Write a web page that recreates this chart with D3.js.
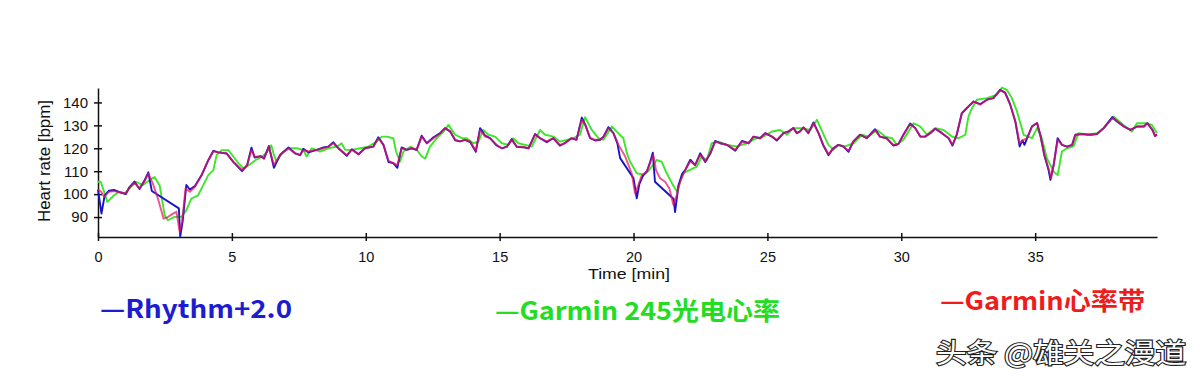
<!DOCTYPE html>
<html>
<head>
<meta charset="utf-8">
<script src="https://cdn.jsdelivr.net/npm/d3@7"></script>
<style>
  body { margin: 0; background: #fff; }
  svg { display: block; }
</style>
</head>
<body>
<svg id="chart"></svg>
<script>
// [time in min, heart rate in bpm]
const rhythmData = [
  [0,102],[0.13,91.5],[0.25,99.5],[0.41,101.5],[0.6,101.8],[0.85,100.7],[1.04,100],[1.17,103],[1.36,105.5],[1.55,102.2],
  [1.73,105.8],[1.88,109.5],[2.01,101.4],[3.02,93.8],[3.07,81.5],[3.16,88],[3.3,104],[3.43,102],[3.62,103.5],[3.87,108.3],
  [4.12,114.8],[4.31,118.9],[4.5,118.2],[4.81,117.7],[5.06,114],[5.38,110],[5.57,112.6],[5.73,120.3],[5.85,116],[6.07,116.6],
  [6.2,115.5],[6.38,121],[6.57,111.5],[6.8,117.1],[7.11,120.4],[7.36,117.8],[7.55,117],[7.67,119.8],[7.86,118.2],[8.17,119.3],
  [8.42,120.4],[8.6,120.7],[8.79,122.6],[8.98,120],[9.29,116.7],[9.48,119.6],[9.73,117.4],[9.97,120],[10.28,120.7],[10.47,124.8],
  [10.66,121.5],[10.85,114],[11.03,113.5],[11.18,111.5],[11.34,120.4],[11.53,119.3],[11.71,120],[11.9,119.3],[12.09,125.5],[12.28,122.2],
  [12.53,124.8],[12.78,126.6],[12.96,128.8],[13.15,127.4],[13.34,123.5],[13.52,123],[13.71,123.7],[13.9,122.7],[14.11,118.5],[14.27,128.8],
  [14.46,125.5],[14.64,124.4],[14.89,121.2],[15.08,120],[15.27,120.7],[15.45,124],[15.64,120.7],[15.89,120.4],[16.08,120],[16.32,126.2],
  [16.51,124.4],[16.76,122.7],[17,124.4],[17.25,121.2],[17.43,122.2],[17.68,124.4],[17.87,123.7],[18.07,133.4],[18.2,130.2],[18.38,124.4],
  [18.57,123.4],[18.75,123.7],[18.88,125.1],[19.06,129.2],[19.25,126.6],[19.4,122],[19.5,115.7],[20,106.9],[20.12,98.2],[20.22,104.5],
  [20.35,108],[20.5,110],[20.62,114],[20.72,118.1],[20.8,105.4],[21.5,97.9],[21.55,92.2],[21.68,104],[21.82,109],[21.93,110.5],
  [22.12,115],[22.3,112.7],[22.49,117.8],[22.68,114],[22.87,117.8],[23.05,123.2],[23.24,122.2],[23.49,121.5],[23.8,118.9],[24.05,123.2],
  [24.3,122.2],[24.48,125.1],[24.73,124.4],[24.92,126.6],[25.17,125.1],[25.35,123.4],[25.6,126.6],[25.79,127.4],[25.97,128.8],[26.1,126.6],
  [26.22,127.4],[26.35,129.1],[26.53,126.6],[26.72,131.3],[26.91,126.6],[27.09,121.2],[27.28,117],[27.46,120],[27.65,121.5],[27.84,120.7],
  [28.03,118.5],[28.21,123],[28.46,125.9],[28.71,124.4],[29.02,128.3],[29.2,125.1],[29.45,124.4],[29.71,121.2],[29.89,121.8],[30.08,125.9],
  [30.33,130.8],[30.52,128.8],[30.71,125.1],[30.89,125.1],[31.08,126.6],[31.27,128.5],[31.52,126.6],[31.77,124.4],[31.91,121.2],[32.07,125.9],
  [32.26,135.3],[32.51,138.3],[32.7,140.4],[32.95,139.3],[33.2,141.2],[33.44,141.9],[33.69,145.5],[33.88,144.3],[34.07,139],[34.26,131.7],
  [34.42,120.8],[34.52,123.5],[34.6,121.5],[34.7,124.4],[34.88,129.5],[35.07,131],[35.19,125.9],[35.34,117.1],[35.5,110.5],[35.57,106.2],
  [35.69,112.7],[35.84,124.4],[36,121.5],[36.19,120.7],[36.38,121.5],[36.5,125.9],[36.75,126.2],[37.06,125.9],[37.31,126.2],[37.56,128.8],
  [37.88,133.6],[38.06,131.7],[38.31,129.5],[38.56,128],[38.81,129.5],[39.06,129.5],[39.19,131],[39.38,128],[39.48,125.3],[39.55,126]
]

const garmin245Data = [
  [0,105.4],[0.1,105.4],[0.23,101],[0.35,96.6],[0.48,98.1],[0.6,99.5],[0.79,101],[0.98,100.3],[1.17,102.4],[1.42,105.4],
  [1.67,103.9],[1.92,106.1],[2.11,107.5],[2.3,103.9],[2.49,90.8],[2.61,88.6],[2.86,90.1],[3.12,90.1],[3.3,93],[3.49,98.1],
  [3.74,99.5],[3.93,103.9],[4.12,108.3],[4.31,110.5],[4.43,117],[4.62,119.2],[4.87,119.2],[5.06,116.3],[5.25,113.4],[5.44,111.2],
  [5.63,112.6],[5.88,114.8],[6.13,116.3],[6.32,118.5],[6.47,121.3],[6.57,117.1],[6.67,114.2],[6.92,118.6],[7.17,120],[7.42,120],
  [7.67,119.3],[7.79,116.4],[7.98,120],[8.29,118.6],[8.6,120],[8.92,120.7],[9.1,122.2],[9.23,119.3],[9.47,119.3],[9.79,120],
  [10.1,120.7],[10.41,122.9],[10.6,125.1],[10.78,125.1],[11.03,124.4],[11.13,118.6],[11.28,114.2],[11.41,118.6],[11.66,120.7],[11.91,119.3],
  [12.09,116.4],[12.22,115.5],[12.4,120.7],[12.65,124.4],[12.9,127.3],[13.09,130.2],[13.34,125.9],[13.59,124.4],[13.77,124.4],[14.02,122.2],
  [14.21,122.9],[14.39,128],[14.58,125.9],[14.83,125.1],[15.08,122.2],[15.33,121.5],[15.51,124.4],[15.7,122.2],[15.95,121.5],[16.2,120.8],
  [16.51,128],[16.7,125.9],[17.01,125.1],[17.26,122.9],[17.51,123.7],[17.76,124.4],[18,125.9],[18.19,133.6],[18.44,128],[18.69,124.4],
  [18.88,123.7],[19.19,129.5],[19.37,127.3],[19.62,124.4],[19.75,118],[19.87,114.2],[20.12,109.1],[20.37,108.5],[20.55,110],[20.68,112],
  [20.87,114.9],[21.05,114.2],[21.24,109.1],[21.43,104.9],[21.62,101.1],[21.74,105.4],[21.86,109.1],[22.11,110.6],[22.36,112],[22.55,116.4],
  [22.74,114.9],[22.92,122.2],[23.17,122.9],[23.5,121.5],[23.86,120.8],[24.23,122.2],[24.6,124.4],[24.85,125.1],[25.17,127.3],[25.48,128],
  [25.73,125.9],[25.97,128.8],[26.29,128.8],[26.6,128],[26.85,132.4],[27.1,125.9],[27.28,121.5],[27.47,119.3],[27.66,121.5],[27.9,120.8],
  [28.22,122.2],[28.53,125.9],[28.78,125.1],[29.09,128],[29.4,125.1],[29.65,124.4],[29.84,121.5],[30.08,123.7],[30.46,130.9],[30.71,129.5],
  [30.96,125.9],[31.27,128.8],[31.58,128],[31.89,125.1],[32.14,124.4],[32.39,125.9],[32.51,133.9],[32.64,137.5],[32.82,141.2],[33.2,141.9],
  [33.57,143.4],[33.76,146.5],[33.94,145.5],[34.13,141.9],[34.32,136.1],[34.57,125.9],[34.88,124.4],[35.07,128.8],[35.25,124.4],[35.44,115.6],
  [35.69,109.8],[35.84,108.3],[36,118.6],[36.19,120],[36.43,120.8],[36.62,126.6],[36.93,125.9],[37.31,126.6],[37.56,128.8],[37.93,133.9],
  [38.3,130.2],[38.61,127.3],[38.8,130.9],[39.17,130.9],[39.36,130.2],[39.55,126.6]
]

const strapData = [
  [0,102],[0.12,101],[0.23,98.8],[0.41,101],[0.6,101.3],[0.85,100.7],[1.04,100.3],[1.17,102.7],[1.36,105],[1.55,102.5],
  [1.73,105.4],[1.88,109],[2.05,104.6],[2.24,98],[2.45,89.3],[2.61,90],[2.8,91.5],[2.93,92.3],[3.05,83.5],[3.14,88],
  [3.27,102.5],[3.43,101],[3.62,103.2],[3.87,108.3],[4.12,114.8],[4.31,118.7],[4.5,118.2],[4.81,117.7],[5.06,114],[5.38,110.5],
  [5.57,112.6],[5.73,119.2],[5.85,116.3],[6.07,116.3],[6.2,115.5],[6.38,120.6],[6.57,112.7],[6.8,117.1],[7.11,120],[7.36,117.8],
  [7.55,117.1],[7.67,119.3],[7.86,118.6],[8.17,119.3],[8.42,120],[8.6,120.7],[8.79,122.2],[8.98,120],[9.29,117.1],[9.48,119.3],
  [9.73,117.4],[9.97,120],[10.28,120.7],[10.47,124.4],[10.66,121.5],[10.85,114.5],[11.03,113.5],[11.18,112.7],[11.34,120],[11.53,119.3],
  [11.71,120],[11.9,119.3],[12.09,125.1],[12.28,122.2],[12.53,124.4],[12.78,126.6],[12.96,128.8],[13.15,127.4],[13.34,123.7],[13.52,123],
  [13.71,123.7],[13.9,123],[14.11,118.9],[14.27,128],[14.46,125.1],[14.64,124.4],[14.89,121.5],[15.08,120],[15.27,120.7],[15.45,123.7],
  [15.64,120.7],[15.89,120.7],[16.08,120],[16.32,125.9],[16.51,124.4],[16.76,123],[17,124.4],[17.25,121.5],[17.43,122.2],[17.68,124.4],
  [17.87,123.7],[18.07,132.4],[18.2,130.2],[18.38,124.4],[18.57,123.7],[18.75,123.7],[18.88,125.1],[19.06,128.8],[19.25,126.6],[19.44,121.5],
  [19.69,116.4],[19.93,109.1],[20.06,100.2],[20.18,104],[20.31,108.3],[20.5,109.8],[20.62,113.5],[20.74,117.1],[20.84,110.5],[20.99,106.9],
  [21.18,105.4],[21.34,102.5],[21.49,95.2],[21.62,99.7],[21.74,105.4],[21.93,110.5],[22.12,114.3],[22.3,112.7],[22.49,117.1],[22.68,114.3],
  [22.87,117.8],[23.05,122.9],[23.24,122.2],[23.49,121.5],[23.8,119.3],[24.05,122.9],[24.3,122.2],[24.48,125.1],[24.73,124.4],[24.92,126.6],
  [25.17,125.1],[25.35,123.7],[25.6,126.6],[25.79,127.4],[25.97,128.8],[26.1,126.6],[26.22,127.4],[26.35,129.1],[26.53,126.6],[26.72,131],
  [26.91,126.6],[27.09,121.5],[27.28,117.4],[27.46,120],[27.65,121.5],[27.84,120.7],[28.03,118.9],[28.21,123],[28.46,125.9],[28.71,124.4],
  [29.02,128],[29.2,125.1],[29.45,124.4],[29.71,121.5],[29.89,121.8],[30.08,125.9],[30.33,130.5],[30.52,128.8],[30.71,125.1],[30.89,125.1],
  [31.08,126.6],[31.27,128.5],[31.52,126.6],[31.77,124.4],[31.91,121.5],[32.07,125.9],[32.26,135.3],[32.51,138.3],[32.7,140.4],[32.95,139],
  [33.2,141.2],[33.44,141.9],[33.69,145.5],[33.88,144],[34.07,139],[34.26,131.7],[34.42,122.2],[34.57,123.7],[34.7,124.4],[34.88,129.5],
  [35.07,131],[35.19,125.9],[35.34,117.1],[35.5,111.3],[35.59,106.9],[35.69,112.7],[35.84,123.7],[36,121.5],[36.19,120.7],[36.38,121.5],
  [36.5,125.9],[36.75,126.2],[37.06,125.9],[37.31,126.2],[37.56,128.8],[37.88,133.2],[38.06,131.7],[38.31,129.5],[38.56,128],[38.81,129.5],
  [39.06,129.5],[39.19,131],[39.38,128],[39.48,125.3],[39.55,126]
]

const xTicks = [0, 5, 10, 15, 20, 25, 30, 35]
const yTicks = [90, 100, 110, 120, 130, 140]

const legendLabels = ['—Rhythm+2.0', '—Garmin 245光电心率', '—Garmin心率带']
const watermark = '头条 @雄关之漫道'

const w = 1200
const h = 382
const axisFont = "'Liberation Sans', Arial, sans-serif"

const svg = d3.select('#chart').attr('width', w).attr('height', h)

const x = d3.scaleLinear().domain([0, 39.55]).range([98, 1157])
const y = d3.scaleLinear().domain([81.3, 146.3]).range([237, 88])

// axes - ticks cross the axis line
const gx = svg
  .append('g')
  .attr('transform', `translate(0,${y(81.3)})`)
  .call(d3.axisBottom(x).tickValues(xTicks).tickSizeOuter(0).tickFormat(d3.format('d')))
gx.select('.domain').attr('stroke', '#111').attr('stroke-width', 1.5)
gx.selectAll('.tick line').attr('y1', -4).attr('y2', 4).attr('stroke', '#111').attr('stroke-width', 1.5)
gx.selectAll('.tick text')
  .attr('y', 25)
  .attr('dy', 0)
  .attr('fill', '#111')
  .style('font-family', axisFont)
  .style('font-size', '14.5px')

const gy = svg
  .append('g')
  .attr('transform', `translate(${x(0)},0)`)
  .call(d3.axisLeft(y).tickValues(yTicks).tickSizeOuter(0))
gy.select('.domain').attr('stroke', '#111').attr('stroke-width', 1.5)
gy.selectAll('.tick line').attr('x1', -4).attr('x2', 4).attr('stroke', '#111').attr('stroke-width', 1.5)
gy.selectAll('.tick text')
  .attr('x', -10)
  .attr('fill', '#111')
  .style('font-family', axisFont)
  .style('font-size', '15px')

svg
  .append('text')
  .text('Time [min]')
  .attr('x', 629)
  .attr('y', 279)
  .attr('text-anchor', 'middle')
  .attr('textLength', 82)
  .attr('lengthAdjust', 'spacingAndGlyphs')
  .style('font-family', axisFont)
  .style('font-size', '14.5px')
  .attr('fill', '#111')

svg
  .append('text')
  .text('Heart rate [bpm]')
  .attr('transform', 'translate(50,161) rotate(-90)')
  .attr('text-anchor', 'middle')
  .attr('textLength', 122)
  .attr('lengthAdjust', 'spacingAndGlyphs')
  .style('font-family', axisFont)
  .style('font-size', '16px')
  .attr('fill', '#111')

// series
const line = d3
  .line()
  .x((d) => x(d[0]))
  .y((d) => y(d[1]))

const series = [
  { data: garmin245Data, color: '#3ee62a', opacity: 1 },
  { data: rhythmData, color: '#1a14c8', opacity: 1 },
  { data: strapData, color: '#e8125e', opacity: 0.72 },
]

svg
  .append('g')
  .selectAll('path')
  .data(series)
  .join('path')
  .attr('d', (d) => line(d.data))
  .attr('fill', 'none')
  .attr('stroke', (d) => d.color)
  .attr('stroke-opacity', (d) => d.opacity)
  .attr('stroke-width', 1.9)
  .attr('stroke-linejoin', 'round')

// legend text blocks
const legendPos = [
  { x: 100, y: 318, width: 192, color: '#1c1cd0' },
  { x: 495, y: 320, width: 285, color: '#22dd22' },
  { x: 940, y: 310, width: 205, color: '#ee1c1c' },
]

svg
  .append('g')
  .selectAll('text')
  .data(legendLabels)
  .join('text')
  .text((d) => d)
  .attr('x', (d, i) => legendPos[i].x)
  .attr('y', (d, i) => legendPos[i].y)
  .attr('textLength', (d, i) => legendPos[i].width)
  .attr('lengthAdjust', 'spacingAndGlyphs')
  .attr('fill', (d, i) => legendPos[i].color)
  .style('font-family', "'Noto Sans CJK SC', 'Noto Sans', sans-serif")
  .style('font-weight', 'bold')
  .style('font-size', '25px')

// watermark: white text with dark shadow
const wm = svg.append('g')
wm.append('text')
  .text(watermark)
  .attr('x', 936)
  .attr('y', 363)
  .attr('textLength', 250)
  .attr('lengthAdjust', 'spacingAndGlyphs')
  .attr('fill', 'white')
  .attr('stroke', '#222')
  .attr('stroke-width', 2.2)
  .attr('paint-order', 'stroke')
  .style('font-family', "'Noto Sans CJK SC', sans-serif")
  .style('font-size', '27px')
</script>
</body>
</html>
